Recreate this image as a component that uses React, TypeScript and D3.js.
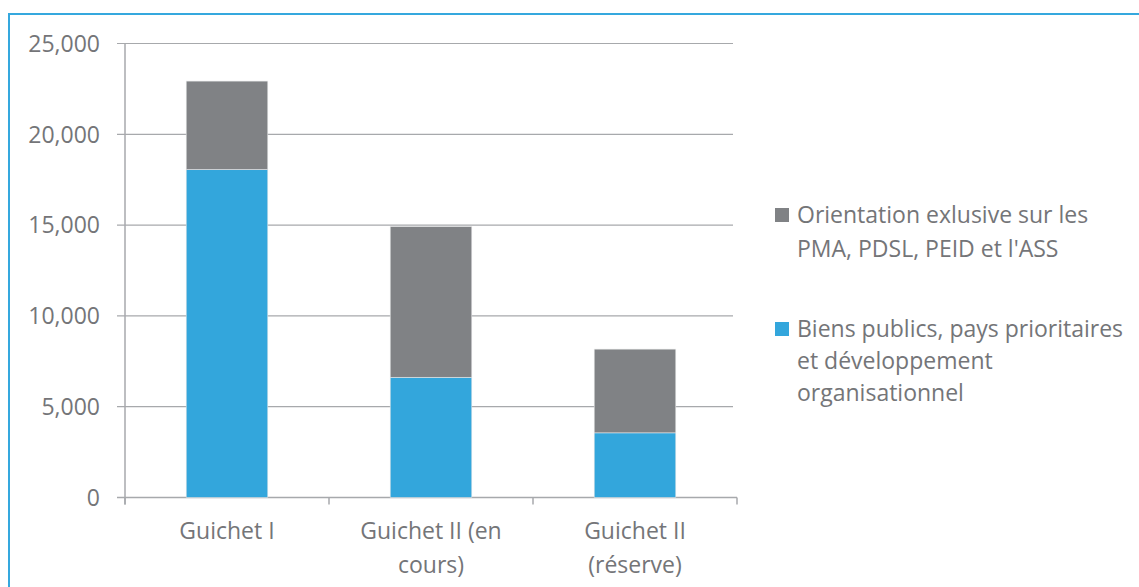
import React from "react";
import * as d3 from "d3";

const categories: string[][] = [["Guichet I"], ["Guichet II (en", "cours)"], ["Guichet II", "(réserve)"]];
const bluePart: number[] = [18060, 6620, 3560];
const grayPart: number[] = [4870, 8300, 4610];
const yTicks: number[] = [0, 5000, 10000, 15000, 20000, 25000];
const legendGray: string[] = ["Orientation exlusive sur les", "PMA, PDSL, PEID et l'ASS"];
const legendBlue: string[] = ["Biens publics, pays prioritaires", "et développement", "organisationnel"];

const BLUE = "#33a6dc";
const GRAY = "#808285";
const TEXT = "#747578";
const AXIS = "#a7a9ac";
const FONT = "'Open Sans', sans-serif";

export default function App() {
  const W = 1139, H = 587;
  const left = 125, right = 737, top = 43.5, bottom = 497.5;
  const x = d3.scaleBand<number>().domain(d3.range(categories.length)).range([left, right]).paddingInner(0.6).paddingOuter(0.3);
  const band = d3.scaleBand<number>().domain(d3.range(categories.length)).range([left, right]);
  const y = d3.scaleLinear().domain([0, 25000]).range([bottom, top]);
  const fmt = d3.format(",");
  const stacked = d3.stack<number>().keys(["blue", "gray"]).value((i, k) => (k === "blue" ? bluePart[i] : grayPart[i]))(d3.range(categories.length));
  const colors = [BLUE, GRAY];

  return (
    <div style={{ position: "absolute", left: 0, top: 0, margin: 0 }}>
      <svg width={W} height={H} style={{ display: "block", background: "#fff" }}>
        <line x1={9} y1={14} x2={W} y2={14} stroke="#35a8de" strokeWidth={2} />
        <line x1={9} y1={13} x2={9} y2={H} stroke="#35a8de" strokeWidth={2} />
        {yTicks.map((t) => (
          <g key={t}>
            <line x1={117} x2={t === 0 ? right : 733} y1={y(t)} y2={y(t)} stroke={AXIS} strokeWidth={t === 0 ? 1.5 : 1.2} />
            <text x={100} y={y(t)} dy="0.36em" textAnchor="end" fill={TEXT} fontFamily={FONT} fontSize={23}>{fmt(t)}</text>
          </g>
        ))}
        <line x1={left} x2={left} y1={top} y2={bottom + 7} stroke={AXIS} strokeWidth={1.5} />
        {d3.range(categories.length + 1).map((i) => {
          const xx = i < categories.length ? band(i)! : right;
          return <line key={i} x1={xx} x2={xx} y1={bottom} y2={bottom + 7} stroke={AXIS} strokeWidth={1.5} />;
        })}
        {stacked.map((s, si) =>
          s.map((d, i) => (
            <rect key={si + "-" + i} x={x(i)} width={x.bandwidth()} y={y(d[1])} height={y(d[0]) - y(d[1])} fill={colors[si]} stroke="#e6e7e8" strokeWidth={0.6} />
          ))
        )}
        {categories.map((lines, i) => (
          <text key={i} x={band(i)! + band.bandwidth() / 2} y={531} textAnchor="middle" fill={TEXT} fontFamily={FONT} fontSize={23}>
            {lines.map((l, j) => (
              <tspan key={j} x={band(i)! + band.bandwidth() / 2} dy={j === 0 ? "0.36em" : 34}>{l}</tspan>
            ))}
          </text>
        ))}
        <rect x={775} y={208} width={14} height={14} fill={GRAY} />
        <text x={797} y={215} fill={TEXT} fontFamily={FONT} fontSize={23}>
          {legendGray.map((l, j) => (
            <tspan key={j} x={797} dy={j === 0 ? "0.36em" : 34}>{l}</tspan>
          ))}
        </text>
        <rect x={775} y={322} width={14} height={14} fill={BLUE} />
        <text x={797} y={329} fill={TEXT} fontFamily={FONT} fontSize={23}>
          {legendBlue.map((l, j) => (
            <tspan key={j} x={797} dy={j === 0 ? "0.36em" : 32}>{l}</tspan>
          ))}
        </text>
      </svg>
    </div>
  );
}
